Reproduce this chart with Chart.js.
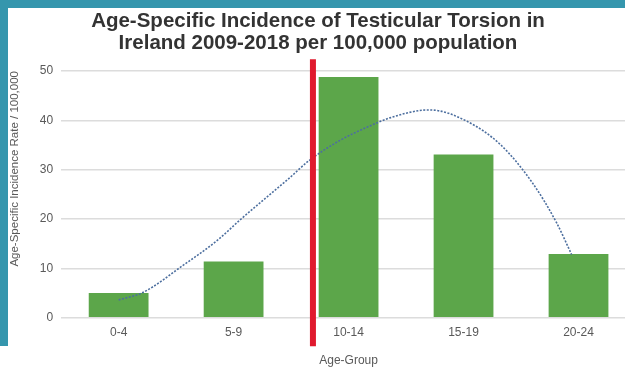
<!DOCTYPE html>
<html>
<head>
<meta charset="utf-8">
<script src="https://cdn.jsdelivr.net/npm/chart.js@4/dist/chart.umd.min.js"></script>
<style>
  html, body { margin: 0; padding: 0; background: #ffffff; overflow: hidden; width: 625px; height: 368px; }
  #wrap { position: absolute; left: 0; top: 0; width: 636px; height: 368px; }
  .edge { position: absolute; background: #3596ad; z-index: 2; }
  #edgeTop { left: 0; top: 0; width: 625px; height: 8px; }
  #edgeLeft { left: 0; top: 0; width: 8px; height: 346px; }
</style>
</head>
<body>
<div id="wrap"><canvas id="chart"></canvas></div>
<div class="edge" id="edgeTop"></div>
<div class="edge" id="edgeLeft"></div>
<script>
// Age groups and incidence per 100,000
const ageGroups = ['0-4', '5-9', '10-14', '15-19', '20-24'];
const incidence = [5.0, 11.4, 48.8, 33.1, 12.9];

// Trend curve, sampled along the age-group axis (0 = first group)
const trendPos = [0.0, 0.21, 0.56, 0.86, 1.06, 1.47, 1.66, 1.93, 2.16, 2.36, 2.62, 2.71, 3.03, 3.32, 3.60, 3.81, 3.94];
const trendVal = [3.6, 5.1, 10.6, 15.7, 19.9, 28.0, 31.9, 36.0, 38.6, 40.5, 42.0, 42.1, 39.8, 35.1, 27.3, 19.2, 12.8];

// Red divider between the 5-9 and 10-14 groups
const dividerPos = 1.69;
const dividerSpan = [52.4, -5.8];

const yTicks = [0, 10, 20, 30, 40, 50];

const titleLines = ['Age-Specific Incidence of Testicular Torsion in', 'Ireland 2009-2018 per 100,000 population'];

const FONT = "'Liberation Sans', Arial, sans-serif";

new Chart(document.getElementById('chart'), {
  type: 'bar',
  data: {
    labels: ageGroups,
    datasets: [
      {
        data: incidence,
        backgroundColor: '#5ca64a',
        borderWidth: 0,
        categoryPercentage: 1.0,
        barPercentage: 0.52,
        grouped: false,
        order: 2
      },
      {
        type: 'line',
        data: trendPos.map((p, i) => ({ x: p, y: trendVal[i] })),
        xAxisID: 'xt',
        borderColor: '#4d6f9f',
        borderWidth: 1.6,
        borderDash: [2, 1.5],
        pointRadius: 0,
        cubicInterpolationMode: 'monotone',
        fill: false,
        order: 1
      },
      {
        type: 'line',
        data: dividerSpan.map(v => ({ x: dividerPos, y: v })),
        xAxisID: 'xt',
        borderColor: '#e01a2e',
        borderWidth: 6,
        pointRadius: 0,
        clip: false,
        order: 0
      }
    ]
  },
  options: {
    responsive: true,
    maintainAspectRatio: false,
    animation: false,
    devicePixelRatio: 1,
    layout: { padding: { top: 8, left: 0, right: 0, bottom: 0 } },
    plugins: {
      legend: { display: false },
      tooltip: { enabled: false },
      title: {
        display: true,
        text: titleLines,
        color: '#333333',
        font: { family: FONT, size: 20.5, weight: 'bold', lineHeight: '22px' },
        padding: { top: 2.5, bottom: 16.5 }
      }
    },
    scales: {
      x: {
        grid: { display: false, drawTicks: false },
        border: { display: false },
        ticks: { color: '#595959', font: { family: FONT, size: 12 }, padding: 8 },
        title: {
          display: true,
          text: 'Age-Group',
          color: '#595959',
          font: { family: FONT, size: 12 },
          padding: { top: 5.5, bottom: 0 }
        }
      },
      // continuous companion of the category axis: group i sits at value i
      xt: {
        type: 'linear',
        display: false,
        offset: false,
        min: -0.5,
        max: 4.5
      },
      y: {
        min: 0,
        max: 50,
        afterBuildTicks: (axis) => { axis.ticks = yTicks.map(v => ({ value: v })); },
        grid: { color: '#dcdcdc', lineWidth: 1.5, drawTicks: false },
        border: { display: false },
        ticks: { color: '#595959', font: { family: FONT, size: 12 }, padding: 8 },
        title: {
          display: true,
          text: 'Age-Specific Incidence Rate / 100,000',
          align: 'end',
          color: '#595959',
          font: { family: FONT, size: 11.5 },
          padding: { top: 8, bottom: 10 }
        }
      }
    }
  }
});
</script>
</body>
</html>
